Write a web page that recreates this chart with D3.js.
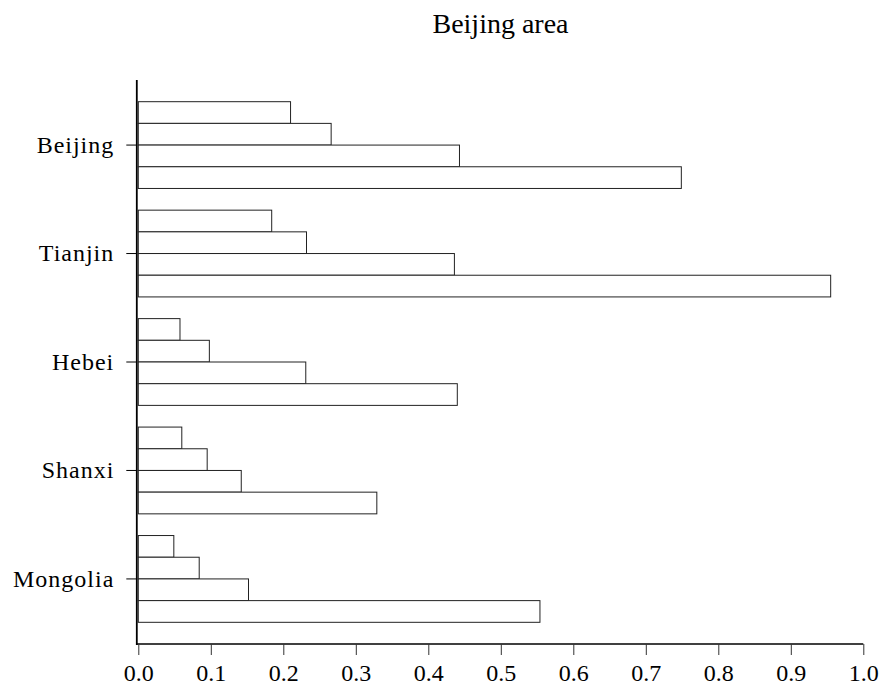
<!DOCTYPE html>
<html>
<head>
<meta charset="utf-8">
<script src="https://cdn.jsdelivr.net/npm/d3@7"></script>
<style>
  html, body { margin: 0; padding: 0; background: #fff; }
  svg { display: block; }
  svg text { font-family: "Liberation Serif", "Times New Roman", serif !important; }
</style>
</head>
<body>
<svg id="chart" width="885" height="688"></svg>
<script>
const title = "Beijing area";
const categories = ["Beijing", "Tianjin", "Hebei", "Shanxi", "Mongolia"];
const seriesNames = ["s1", "s2", "s3", "s4"];
const s1 = [0.210, 0.184, 0.0575, 0.060, 0.049];
const s2 = [0.266, 0.232, 0.098, 0.095, 0.084];
const s3 = [0.443, 0.436, 0.231, 0.142, 0.152];
const s4 = [0.749, 0.955, 0.440, 0.329, 0.554];
const xTicks = [0, 0.1, 0.2, 0.3, 0.4, 0.5, 0.6, 0.7, 0.8, 0.9, 1.0];

const seriesValues = [s1, s2, s3, s4];
const rows = [];
categories.forEach((c, i) => {
  seriesNames.forEach((s, j) => rows.push({ cat: c, series: s, value: seriesValues[j][i] }));
});

const svg = d3.select("#chart");
const x = d3.scaleLinear().domain([0, 1]).range([138.3, 863.3]);
const y = d3.scaleBand().domain(categories).range([80, 644]).padding(0.2);
const yi = d3.scaleBand().domain(seriesNames).range([0, y.bandwidth()]).padding(0);

// bars
svg.append("g").selectAll("rect").data(rows).join("rect")
  .attr("x", x(0))
  .attr("y", d => y(d.cat) + yi(d.series))
  .attr("width", d => x(d.value) - x(0))
  .attr("height", yi.bandwidth())
  .attr("fill", "#fff")
  .attr("stroke", "#222")
  .attr("stroke-width", 1);

// x axis
const xAxis = svg.append("g")
  .attr("transform", "translate(0,644)")
  .call(d3.axisBottom(x).tickValues(xTicks).tickFormat(d3.format(".1f")).tickSize(11).tickSizeOuter(0).tickPadding(9));
xAxis.select(".domain").attr("stroke", "#000").attr("stroke-width", 1.5)
  .attr("d", `M${x(0) - 2},0H${x(1)}`);
xAxis.selectAll(".tick line").attr("stroke", "#333").attr("stroke-width", 1);
xAxis.selectAll(".tick text").attr("font-size", 24).attr("fill", "#000");

// y axis
const yAxis = svg.append("g")
  .attr("transform", `translate(${x(0) - 1.5},0)`)
  .call(d3.axisLeft(y).tickSize(10.5).tickSizeOuter(0).tickPadding(12));
yAxis.select(".domain").attr("stroke", "#000").attr("stroke-width", 1.8)
  .attr("d", "M0,80V645");
yAxis.selectAll(".tick line").attr("stroke", "#000").attr("stroke-width", 1);
yAxis.selectAll(".tick text").attr("font-size", 24).attr("fill", "#000")
  .attr("letter-spacing", "1px");

// title
svg.append("text")
  .attr("x", 500.5).attr("y", 33)
  .attr("text-anchor", "middle")
  .attr("font-size", 28)
  .attr("fill", "#000")
  .text(title);
</script>
</body>
</html>
